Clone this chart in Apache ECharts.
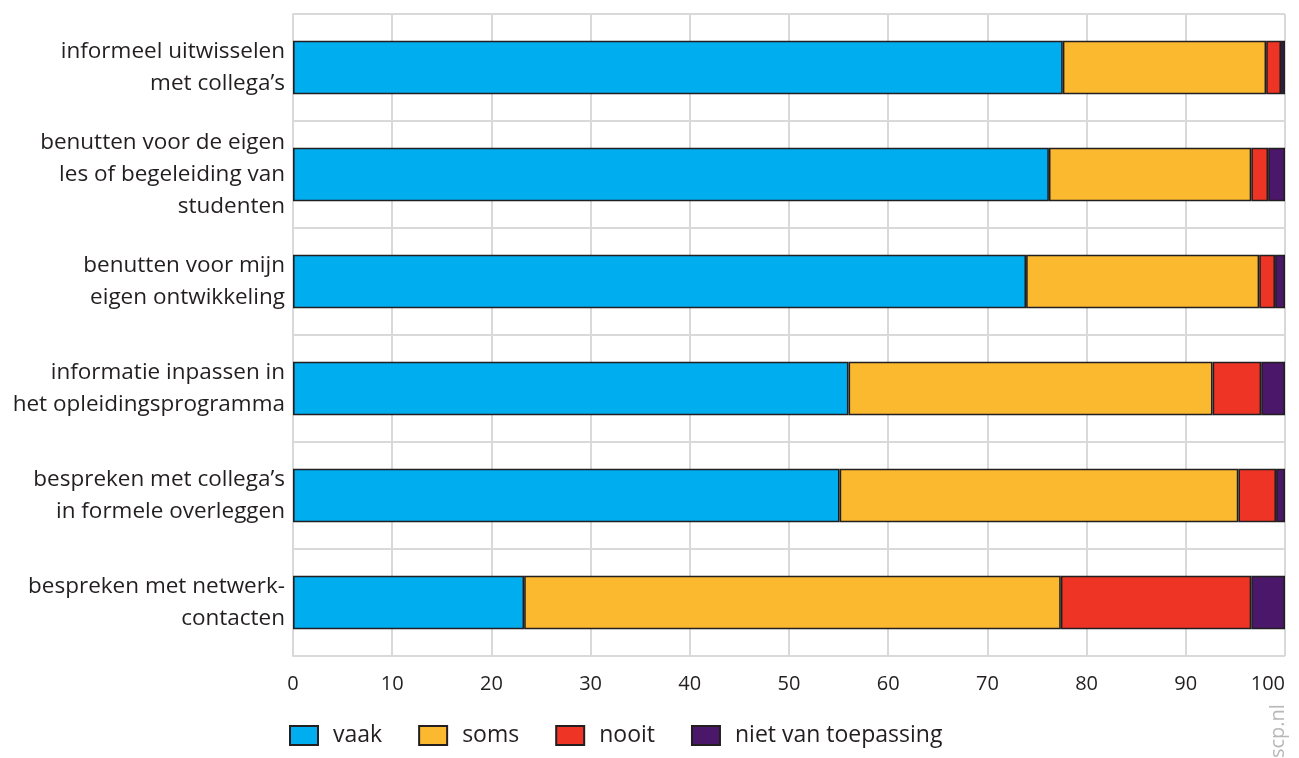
<!DOCTYPE html>
<html>
<head>
<meta charset="utf-8">
<script src="https://cdn.jsdelivr.net/npm/echarts@6/dist/echarts.min.js"></script>
<style>html,body{margin:0;padding:0;background:#fff;}#c{width:1299px;height:758px;}</style>
</head>
<body>
<div id="c"></div>
<script>
const categories = [
  "informeel uitwisselen\nmet collega’s",
  "benutten voor de eigen\nles of begeleiding van\nstudenten",
  "benutten voor mijn\neigen ontwikkeling",
  "informatie inpassen in\nhet opleidingsprogramma",
  "bespreken met collega’s\nin formele overleggen",
  "bespreken met netwerk-\ncontacten"
];
const vaak  = [77.6, 76.2, 73.9, 56.0, 55.1, 23.3];
const soms  = [20.5, 20.4, 23.5, 36.7, 40.2, 54.1];
const nooit = [1.5, 1.7, 1.6, 4.9, 3.8, 19.2];
const nvt   = [0.4, 1.7, 1.0, 2.4, 0.9, 3.4];
const seriesNames = ["vaak", "soms", "nooit", "niet van toepassing"];
const xTicks = [0, 10, 20, 30, 40, 50, 60, 70, 80, 90, 100];

const colors = ["#00aeef", "#fbb930", "#ee3424", "#4b176b"];
const FONT = "Open Sans";
const chart = echarts.init(document.getElementById('c'));
const mk = (name, data, i) => ({
  name, type: 'bar', stack: 'total', data, barWidth: '50%',
  itemStyle: { color: colors[i], borderColor: '#231f20', borderWidth: 1.6 },
  emphasis: { disabled: true }
});
chart.setOption({
  animation: false,
  textStyle: { fontFamily: FONT },
  grid: { left: 293, right: 14, top: 14, bottom: 102, containLabel: false },
  xAxis: {
    type: 'value', min: xTicks[0], max: xTicks[xTicks.length - 1], interval: 10,
    axisLine: { show: false }, axisTick: { show: false },
    splitLine: { show: true, lineStyle: { color: '#d9d9d9', width: 2 } },
    axisLabel: { color: '#231f20', fontSize: 20, fontFamily: FONT, margin: 18, alignMaxLabel: 'right' }
  },
  yAxis: {
    type: 'category', data: categories, inverse: true,
    axisLine: { show: true, lineStyle: { color: '#d9d9d9', width: 2 } },
    axisTick: { show: false },
    splitLine: { show: true, lineStyle: { color: '#d9d9d9', width: 2 } },
    axisLabel: { color: '#231f20', fontSize: 22.5, lineHeight: 32, fontFamily: FONT, margin: 8, align: 'right' }
  },
  legend: {
    data: seriesNames, left: 289, top: 724, padding: 0, icon: 'rect',
    itemWidth: 28, itemHeight: 19, itemGap: 36,
    textStyle: { color: '#231f20', fontSize: 23, fontFamily: FONT, padding: [0, 0, 0, 10] }
  },
  graphic: [{
    type: 'text', x: 1268, y: 758, rotation: Math.PI / 2,
    style: { text: 'scp.nl', fill: '#b8b8b8', font: '20px "Open Sans"', textAlign: 'left', textVerticalAlign: 'top' }
  }],
  series: [mk(seriesNames[0], vaak, 0), mk(seriesNames[1], soms, 1), mk(seriesNames[2], nooit, 2), mk(seriesNames[3], nvt, 3)]
});
</script>
</body>
</html>
